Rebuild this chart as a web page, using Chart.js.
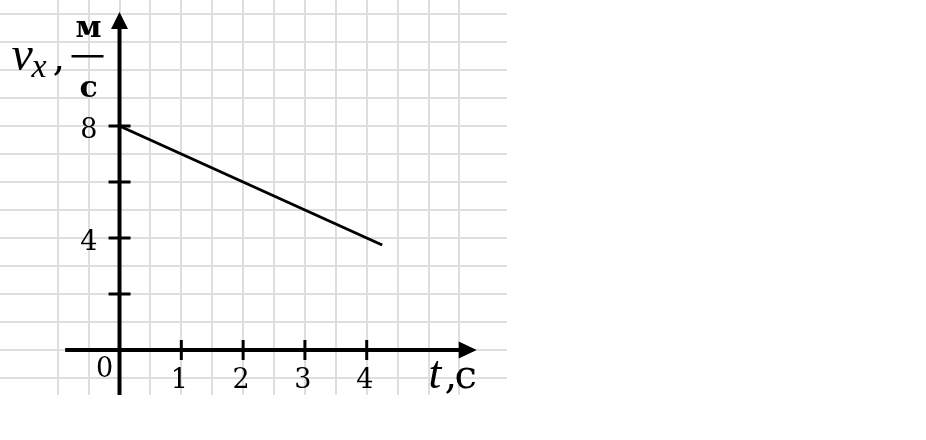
<!DOCTYPE html>
<html>
<head>
<meta charset="utf-8">
<script src="https://cdn.jsdelivr.net/npm/chart.js@4"></script>
<style>
  body { margin: 0; background: #fff; }
  #wrap { width: 926px; height: 440px; position: relative; }
</style>
</head>
<body>
<div id="wrap"><canvas id="chart"></canvas></div>
<script>
// values
const tValues = [0, 4.25];
const vValues = [8, 3.75];

const xTickValues = [1, 2, 3, 4];
const xTickLabels = ['1', '2', '3', '4'];
const yTickValues = [2, 4, 6, 8];
const yTickLabels = ['', '4', '', '8'];

const xRange = [-1.934, 6.27];
const yRange = [-1.607, 12.5];
const xAxisSpan = [-0.88, 5.78];
const yAxisTop = 12.07;

const serif = '"DejaVu Serif", "Liberation Serif", serif';
const italic = '"Liberation Serif", serif';

const axesPlugin = {
  id: 'axes',
  afterDatasetsDraw(chart) {
    const ctx = chart.ctx;
    const x = chart.scales.x, y = chart.scales.y;
    const x0 = x.getPixelForValue(0), y0 = y.getPixelForValue(0);
    ctx.save();
    ctx.strokeStyle = '#000';
    ctx.fillStyle = '#000';

    // vertical axis
    const yTop = y.getPixelForValue(yAxisTop);
    ctx.lineWidth = 4;
    ctx.beginPath();
    ctx.moveTo(x0, chart.chartArea.bottom);
    ctx.lineTo(x0, yTop + 10);
    ctx.stroke();
    ctx.beginPath();
    ctx.moveTo(x0, yTop);
    ctx.lineTo(x0 - 8.5, yTop + 17);
    ctx.lineTo(x0 + 8.5, yTop + 17);
    ctx.closePath();
    ctx.fill();

    // horizontal axis
    const xl = x.getPixelForValue(xAxisSpan[0]);
    const xr = x.getPixelForValue(xAxisSpan[1]);
    ctx.beginPath();
    ctx.moveTo(xl, y0);
    ctx.lineTo(xr - 10, y0);
    ctx.stroke();
    ctx.beginPath();
    ctx.moveTo(xr, y0);
    ctx.lineTo(xr - 18, y0 - 8.5);
    ctx.lineTo(xr - 18, y0 + 8.5);
    ctx.closePath();
    ctx.fill();

    // tick marks + labels
    ctx.lineWidth = 3;
    ctx.font = '27px ' + serif;
    ctx.textBaseline = 'alphabetic';
    yTickValues.forEach((v, i) => {
      const py = y.getPixelForValue(v);
      ctx.beginPath();
      ctx.moveTo(x0 - 11, py);
      ctx.lineTo(x0 + 11, py);
      ctx.stroke();
      if (yTickLabels[i]) {
        ctx.textAlign = 'right';
        ctx.fillText(yTickLabels[i], x0 - 22, py + 12);
      }
    });
    xTickValues.forEach((t, i) => {
      const px = x.getPixelForValue(t);
      ctx.beginPath();
      ctx.moveTo(px, y0 - 10);
      ctx.lineTo(px, y0 + 10);
      ctx.stroke();
      ctx.textAlign = 'center';
      ctx.fillText(xTickLabels[i], px - 2, y0 + 38);
    });
    ctx.textAlign = 'center';
    ctx.fillText('0', x0 - 15, y0 + 27);

    // axis titles
    ctx.textAlign = 'left';
    ctx.font = 'italic 46px ' + italic;
    ctx.fillText('t', x0 + 309, y0 + 38);
    ctx.font = '40px ' + serif;
    ctx.fillText(',', x0 + 325, y0 + 38);
    ctx.fillText('с', x0 + 335, y0 + 38);

    ctx.font = 'italic 48px ' + italic;
    ctx.fillText('v', x0 - 108, y0 - 280);
    ctx.font = 'italic 34px ' + italic;
    ctx.fillText('x', x0 - 88, y0 - 273);
    ctx.font = '40px ' + serif;
    ctx.fillText(',', x0 - 67, y0 - 280);
    ctx.textAlign = 'center';
    ctx.font = 'bold 30px ' + serif;
    ctx.fillText('м', x0 - 31, y0 - 313);
    ctx.fillText('с', x0 - 31, y0 - 253);
    ctx.fillRect(x0 - 48, y0 - 295, 32, 2.5);
    ctx.restore();
  }
};

function keepEvery(step) {
  return scale => {
    scale.ticks = scale.ticks.filter(t => Math.abs(t.value / step - Math.round(t.value / step)) < 1e-6);
  };
}

new Chart(document.getElementById('chart'), {
  type: 'line',
  data: {
    datasets: [{
      data: tValues.map((t, i) => ({ x: t, y: vValues[i] })),
      borderColor: '#000',
      borderWidth: 3,
      pointRadius: 0,
      fill: false
    }]
  },
  options: {
    responsive: true,
    maintainAspectRatio: false,
    animation: false,
    layout: { padding: { left: 0, top: 0, right: 419, bottom: 45 } },
    plugins: { legend: { display: false }, tooltip: { enabled: false } },
    scales: {
      x: {
        type: 'linear',
        min: xRange[0],
        max: xRange[1],
        ticks: { display: false, stepSize: 0.5 },
        afterBuildTicks: keepEvery(0.5),
        grid: { color: '#dedede', lineWidth: 2, drawTicks: false },
        border: { display: false }
      },
      y: {
        type: 'linear',
        min: yRange[0],
        max: yRange[1],
        ticks: { display: false, stepSize: 1 },
        afterBuildTicks: keepEvery(1),
        grid: { color: '#dedede', lineWidth: 2, drawTicks: false },
        border: { display: false }
      }
    }
  },
  plugins: [axesPlugin]
});
</script>
</body>
</html>
